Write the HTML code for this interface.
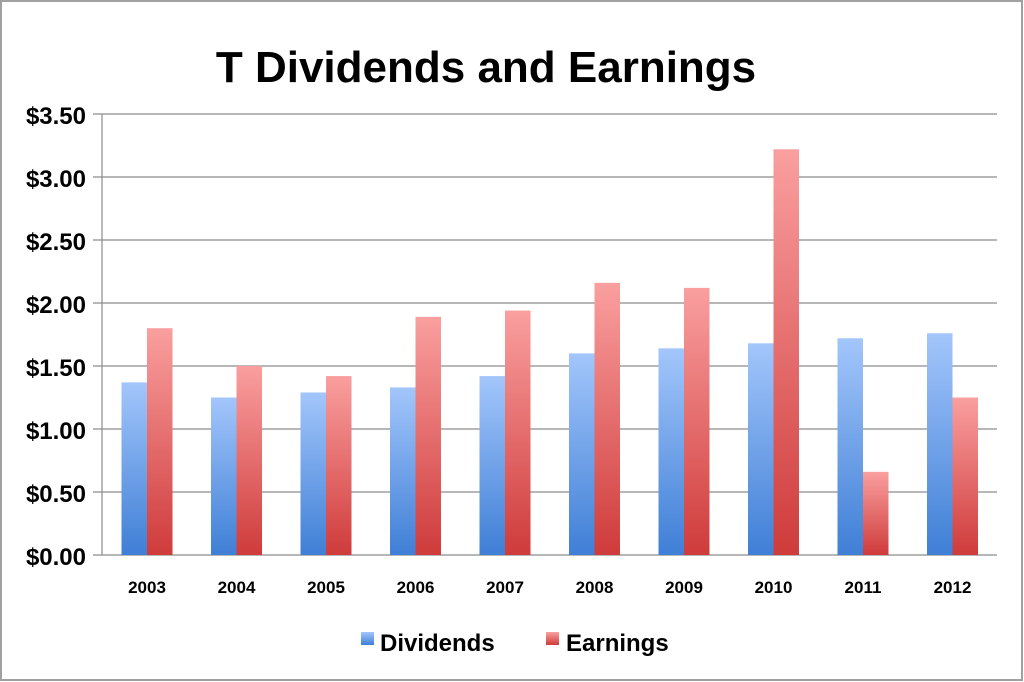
<!DOCTYPE html>
<html><head><meta charset="utf-8"><style>
body{margin:0;background:#fff}
svg{display:block;font-family:"Liberation Sans",sans-serif}
</style></head><body>
<svg id="c" width="1024" height="682">
<defs>
<linearGradient id="gb" x1="0" y1="0" x2="0" y2="1"><stop offset="0" stop-color="#a3c6fb"/><stop offset="1" stop-color="#3f7fd6"/></linearGradient>
<linearGradient id="gr" x1="0" y1="0" x2="0" y2="1"><stop offset="0" stop-color="#fa9f9f"/><stop offset="1" stop-color="#cf3b3b"/></linearGradient>
</defs>
<rect x="1" y="1" width="1021" height="679" fill="#fff" stroke="#a0a0a0" stroke-width="2"/>
<text x="486" y="82" text-anchor="middle" font-size="44" font-weight="bold">T Dividends and Earnings</text>
<g id="grid"></g><g id="bars"></g><g id="labels"></g>
<g>
<rect x="361" y="632" width="13" height="13" fill="url(#gb)"/>
<text x="380" y="651" font-size="24" font-weight="bold">Dividends</text>
<rect x="546" y="632" width="13" height="13" fill="url(#gr)"/>
<text x="566" y="651" font-size="24" font-weight="bold">Earnings</text>
</g>
</svg>
<script>
const categories=["2003","2004","2005","2006","2007","2008","2009","2010","2011","2012"];
const dividends=[1.37,1.25,1.29,1.33,1.42,1.60,1.64,1.68,1.72,1.76];
const earnings=[1.80,1.50,1.42,1.89,1.94,2.16,2.12,3.22,0.66,1.25];
const yTicks=[0,0.5,1,1.5,2,2.5,3,3.5];
const yTickLabels=["$0.00","$0.50","$1.00","$1.50","$2.00","$2.50","$3.00","$3.50"];
const NS="http://www.w3.org/2000/svg";
const x0=102,x1=997,y0=555,yTop=114,yMax=3.5;
const y=v=>y0-(v/yMax)*(y0-yTop);
const bw=(x1-x0)/categories.length;
const xc=i=>x0+i*bw;
function mk(t,a,p){const e=document.createElementNS(NS,t);for(const k in a)e.setAttribute(k,a[k]);p.appendChild(e);return e;}
const G=document.getElementById('grid'),B=document.getElementById('bars'),L=document.getElementById('labels');
yTicks.forEach((v,i)=>{
  const l=mk('line',{x1:x0-9,x2:x1,y1:y(v),y2:y(v),stroke:'#8c8c8c','stroke-width':1.2},G);
  
  
  const t=mk('text',{x:x0-16,y:y(v)+10,'text-anchor':'end','font-size':24,'font-weight':'bold'},L);
  t.textContent=yTickLabels[i];
  
  
});
const ax=mk('line',{x1:x0,x2:x0,y1:yTop,y2:y0,stroke:'#8c8c8c','stroke-width':1.2},G);


const w=25.5,off=19.5;
categories.forEach((c,i)=>{
  const d=mk('rect',{x:xc(i)+off,y:y(dividends[i]),width:w,height:y0-y(dividends[i]),fill:'url(#gb)'},B);
  
  
  const e=mk('rect',{x:xc(i)+off+w,y:y(earnings[i]),width:w,height:y0-y(earnings[i]),fill:'url(#gr)'},B);
  
  
  const t=mk('text',{x:xc(i)+off+w,y:593,'text-anchor':'middle','font-size':17,'font-weight':'bold'},L);
  t.textContent=c;
  
  
});
</script>
</body></html>
